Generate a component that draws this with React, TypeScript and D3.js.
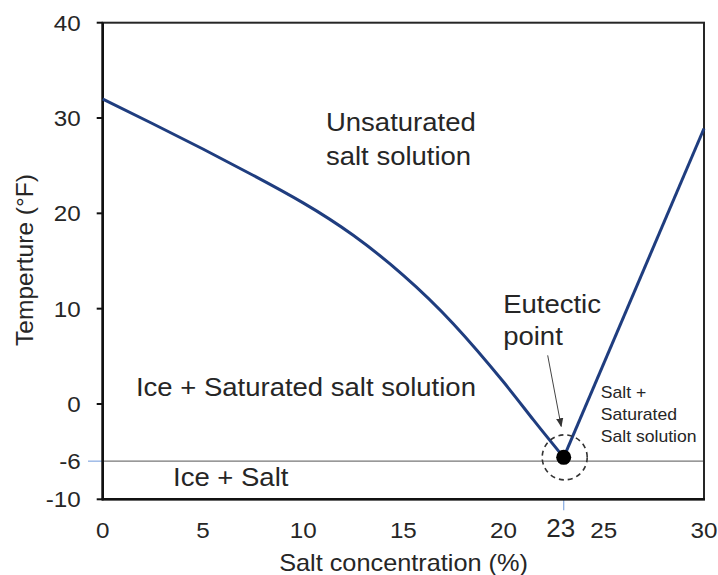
import * as d3 from "d3";

// liquidus (ice) branch
const iceConc = [0, 2.5, 5, 7.5, 10, 12.5, 15, 17.5, 20, 21.5, 23];
const iceTemp = [32, 29.4, 26.75, 24.0, 21.1, 17.7, 13.5, 8.4, 2.3, -1.7, -5.6];
// salt branch
const saltConc = [23, 30];
const saltTemp = [-5.6, 28.9];

const eutectic = { conc: 23, temp: -5.6 };
const eutecticLine = -6;

const yTicks = [-10, -6, 0, 10, 20, 30, 40];
const xTicks = [0, 5, 10, 15, 20, 23, 25, 30];

const regionLabels = [
  { lines: ["Unsaturated", "salt solution"], conc: 11.14, temp: 28.68, size: 25, gap: 34 },
  { lines: ["Ice + Saturated salt solution"], conc: 1.66, temp: 0.84, size: 25, gap: 0 },
  { lines: ["Ice + Salt"], conc: 3.51, temp: -8.6, size: 25, gap: 0 },
  { lines: ["Eutectic", "point"], conc: 19.98, temp: 9.5, size: 25, gap: 31.5 },
  { lines: ["Salt +", "Saturated", "Salt solution"], conc: 24.85, temp: 0.63, size: 16, gap: 21.8 },
];

const W = 718;
const H = 575;
const SX = 1.1; // source picture is a little wider than tall
const FONT = "'Liberation Sans', Arial, sans-serif";
const INK = "#262626";
const CURVE = "#1f3d7f";

function SText(props: {
  x: number;
  y: number;
  size: number;
  anchor?: string;
  children: any;
}) {
  return (
    <text
      transform={`translate(${props.x},${props.y}) scale(${SX},1)`}
      fontSize={props.size}
      textAnchor={props.anchor ?? "start"}
      fill={INK}
    >
      {props.children}
    </text>
  );
}

export default function App() {
  const x = d3.scaleLinear().domain([0, 30]).range([102.7, 704]);
  const y = d3.scaleLinear().domain([-10, 40]).range([499.3, 22.7]);

  const line = d3
    .line<number>()
    .x((_, i) => x(iceConc[i]))
    .y((d) => y(d))
    .curve(d3.curveNatural);
  const saltLine = d3
    .line<number>()
    .x((_, i) => x(saltConc[i]))
    .y((d) => y(d));

  const ex = x(eutectic.conc);
  const ey = y(eutectic.temp);

  return (
    <svg
      width={W}
      height={H}
      style={{ position: "absolute", left: 0, top: 0, background: "#fff" }}
      fontFamily={FONT}
    >
      <defs>
        <marker
          id="arr"
          viewBox="0 0 10 10"
          refX="9"
          refY="5"
          markerWidth="9"
          markerHeight="9"
          orient="auto"
        >
          <path d="M0,1 L10,5 L0,9 z" fill="#333" />
        </marker>
      </defs>

      {/* -6 line */}
      <line x1={x(0)} x2={x(30)} y1={y(eutecticLine)} y2={y(eutecticLine)} stroke="#777" strokeWidth={1.3} />
      <line x1={88} x2={x(0)} y1={y(eutecticLine)} y2={y(eutecticLine)} stroke="#8fb0e3" strokeWidth={1.3} />
      <line x1={x(23)} x2={x(23)} y1={y(-10)} y2={y(-10) + 11} stroke="#8fb0e3" strokeWidth={1.3} />

      {/* frame */}
      <rect x={x(0)} y={y(40)} width={x(30) - x(0)} height={y(-10) - y(40)} fill="none" stroke={INK} strokeWidth={2} />
      <line x1={x(0)} x2={x(0)} y1={y(40)} y2={y(-10) + 1} stroke="#111" strokeWidth={2.6} />
      <line x1={x(0) - 1} x2={x(30) + 1} y1={y(-10)} y2={y(-10)} stroke="#111" strokeWidth={2.6} />

      {/* y ticks */}
      {yTicks.map((t) => (
        <g key={t}>
          {t !== eutecticLine && (
            <line x1={x(0) - 6} x2={x(0)} y1={y(t)} y2={y(t)} stroke="#111" strokeWidth={2} />
          )}
          <SText x={80.7} y={y(t) + 8} size={22} anchor="end">
            {t}
          </SText>
        </g>
      ))}

      {/* x tick labels */}
      {xTicks.map((t) =>
        t === 23 ? (
          <text key={t} x={x(t) - 3} y={y(-10) + 37.5} fontSize={26} textAnchor="middle" fill={INK}>
            {t}
          </text>
        ) : (
          <SText key={t} x={x(t)} y={y(-10) + 39} size={22} anchor="middle">
            {t}
          </SText>
        )
      )}

      {/* axis titles */}
      <SText x={403.5} y={571} size={23} anchor="middle">
        Salt concentration (%)
      </SText>
      <text transform="translate(33,260) rotate(-90)" fontSize={24.5} textAnchor="middle" fill={INK}>
        Temperture (°F)
      </text>

      {/* curves */}
      <path d={line(iceTemp) ?? ""} fill="none" stroke={CURVE} strokeWidth={3} strokeLinejoin="round" />
      <path d={saltLine(saltTemp) ?? ""} fill="none" stroke={CURVE} strokeWidth={3} />

      {/* eutectic */}
      <circle cx={ex + 1} cy={ey} r={22.5} fill="none" stroke="#333" strokeWidth={1.6} strokeDasharray="5,4" />
      <circle cx={ex} cy={ey} r={7.5} fill="#000" />
      <line x1={ex - 16} y1={ey - 102} x2={ex - 2.5} y2={ey - 31} stroke="#444" strokeWidth={1} markerEnd="url(#arr)" />

      {/* region labels */}
      {regionLabels.map((l) =>
        l.lines.map((s, i) => (
          <SText key={s} x={x(l.conc)} y={y(l.temp) + i * l.gap} size={l.size}>
            {s}
          </SText>
        ))
      )}
    </svg>
  );
}
